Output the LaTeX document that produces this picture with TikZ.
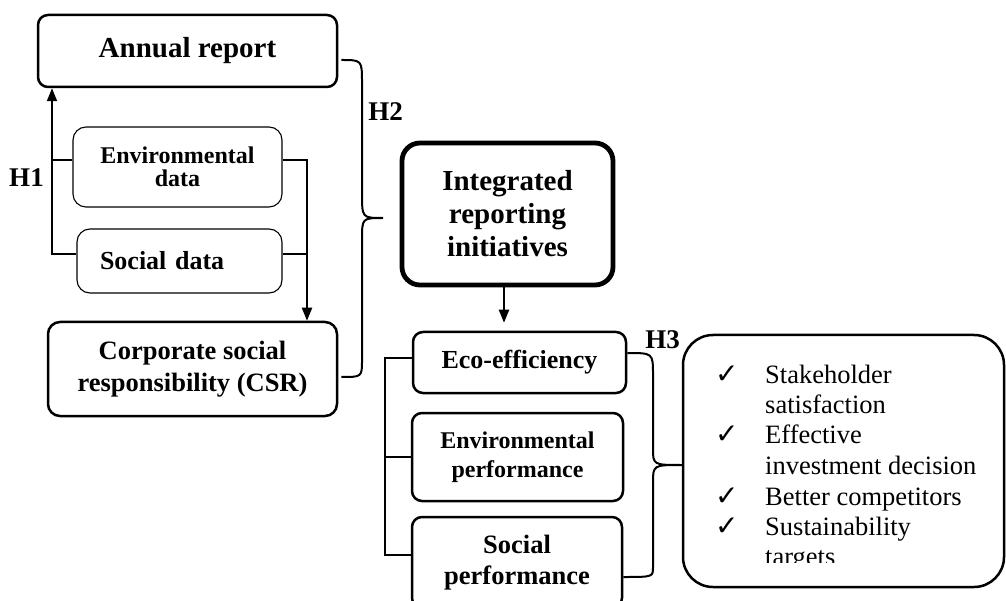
\documentclass[tikz,border=0pt]{standalone}
\usepackage{fontspec}
\setmainfont{Liberation Serif}
\newfontfamily\chkfont{DejaVu Sans}
\usetikzlibrary{arrows.meta}
\begin{document}
\begin{tikzpicture}[x=1pt,y=-1pt,
  box/.style={draw, rounded corners=10pt, line width=2.5pt, align=center, inner sep=0pt},
  thinbox/.style={box, line width=1.1pt, rounded corners=13pt},
  bf/.style 2 args={font=\fontsize{#1}{#2}\selectfont\bfseries},
  conn/.style={line width=2pt},
  tip/.style={-{Triangle[length=13pt,width=10pt]}},
  lab/.style={font=\fontsize{27}{30}\selectfont\bfseries, inner sep=0pt},
  itemtext/.style={anchor=base west, font=\fontsize{26.5}{30}\selectfont, inner sep=0pt},
  chk/.style={anchor=base west, font=\chkfont\fontsize{28}{30}\selectfont, inner sep=0pt}
]
\useasboundingbox (0,0) rectangle (1006,601);
\clip (0,0) rectangle (1006,601);

% boxes
\node[box, bf={29}{33}, minimum width=299, minimum height=72] (ar) at (187.5,51) {Annual report};
\node[thinbox, bf={24}{23}, minimum width=209, minimum height=80] (ed) at (177.5,167) {Environmental\\data};
\node[thinbox, bf={26}{30}, minimum height=64, text width=159, inner xsep=23pt, align=left] (sd) at (179.5,261) {Social data};
\node[box, bf={26.5}{32}, minimum width=289, minimum height=94, rounded corners=12pt] (csr) at (192.5,369) {Corporate social\\responsibility (CSR)};
\node[box, line width=4.8pt, rounded corners=18pt, bf={29}{33}, minimum width=211, minimum height=142] (ir) at (507.5,214) {Integrated\\reporting\\initiatives};
\node[box, bf={26}{30}, minimum width=213, minimum height=61] (eco) at (519.5,362.5) {Eco-efficiency};
\node[box, bf={24}{29}, minimum width=211, minimum height=88] (ep) at (517.5,457) {Environmental\\performance};
\node[box, bf={26.5}{31}, minimum width=210, minimum height=91] (sp) at (517,562.5) {Social\\performance};
\node[box, rounded corners=30pt, minimum width=321, minimum height=252] (rb) at (843.5,461) {};

% list in the right box
\node[chk] (c1) at (715,383) {✓};
\node[chk] (c2) at (715,443) {✓};
\node[chk] (c3) at (715,505) {✓};
\node[chk] (c4) at (715,535) {✓};
\node[itemtext] (t1a) at (765,383) {Stakeholder};
\node[itemtext] (t1b) at (765,413) {satisfaction};
\node[itemtext] (t2a) at (765,443) {Effective};
\node[itemtext] (t2b) at (765,474) {investment decision};
\node[itemtext] (t3) at (765,505) {Better competitors};
\node[itemtext] (t4a) at (765,535) {Sustainability};
\begin{scope}
\clip (683,335) rectangle (1006,562);
\node[itemtext] (t4b) at (765,565) {targets};
\end{scope}

% labels
\node[lab] (h1) at (26.5,178) {H1};
\node[lab] (h2) at (385.5,112) {H2};
\node[lab] (h3) at (662.5,340) {H3};

% helper coordinates
\coordinate (v1) at (52,0);
\coordinate (v2) at (307,0);
\coordinate (v3) at (385,0);
\coordinate (h2tip) at (383,218);
\coordinate (h3tip) at (682,465);

% H1 connectors
\draw[conn, tip] ([yshift=7pt]sd.west) -| (ar.south -| v1);
\draw[conn] ([yshift=7pt]ed.west) -- ([yshift=7pt]ed.west -| v1);

% data to CSR
\draw[conn, tip] ([yshift=7pt]ed.east) -| (csr.north -| v2);
\draw[conn] ([yshift=7pt]sd.east) -- ([yshift=7pt]sd.east -| v2);

% H2 brace
\draw[conn] ([xshift=3pt,yshift=-9pt]ar.east) .. controls (362,60) .. (362,83) -- (362,193)
  .. controls (362,218) .. (h2tip) .. controls (362,218) .. (362,240) -- (362,360)
  .. controls (362,377) .. ([xshift=3pt,yshift=-8pt]csr.east);

% integrated -> eco
\draw[conn, tip, shorten >=8pt] ([xshift=-3.5pt]ir.south) -- ([xshift=-3.5pt]ir.south |- eco.north);

% left bracket of the three boxes
\draw[conn] ([yshift=4.5pt]eco.west) -| ([yshift=7.5pt]sp.west -| v3) -- ([yshift=7.5pt]sp.west);
\draw[conn] (ep.west) -- (ep.west -| v3);

% H3 brace
\draw[conn] ([yshift=9.5pt]eco.east) .. controls (653,353) .. (653,375) -- (653,448)
  .. controls (653,465) .. (h3tip) .. controls (653,465) .. (653,483) -- (653,567)
  .. controls (653,577) .. ([yshift=-14.5pt]sp.east);
\end{tikzpicture}
\end{document}
